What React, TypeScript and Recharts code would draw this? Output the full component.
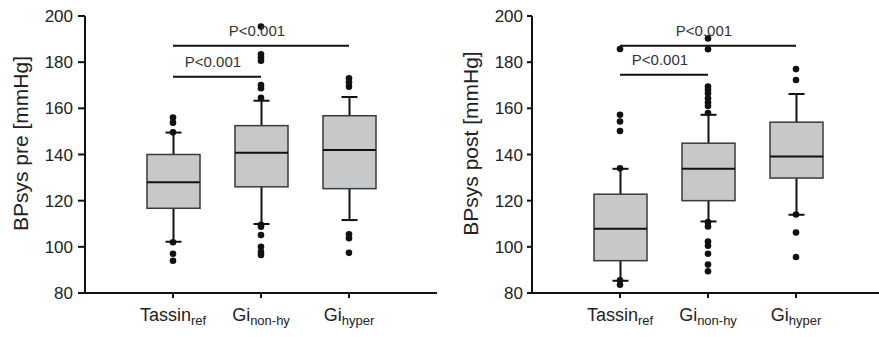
// Box plots of systolic BP before/after, two panels side by side
import { ComposedChart, Bar, Scatter, XAxis, YAxis, ReferenceLine } from 'recharts';

const categories = ['Tassin_ref', 'Gi_non-hy', 'Gi_hyper'];
const catMain = ['Tassin', 'Gi', 'Gi'];
const catSub = ['ref', 'non-hy', 'hyper'];
const yTicks = [80, 100, 120, 140, 160, 180, 200];

// BPsys pre
const preLow = [102.2, 109.9, 111.6];
const preQ1 = [116.7, 126, 125.2];
const preMedian = [128, 140.8, 141.9];
const preQ3 = [140, 152.5, 156.8];
const preHigh = [149.5, 163.3, 164.9];
const preOutTassin = [156, 153.8, 149.6, 102, 97, 94];
const preOutNonHy = [195.4, 183.4, 182, 180.6, 170.1, 168.7, 164.6, 109.5, 108.7, 105.1, 100, 97.9, 96.5];
const preOutHyper = [173, 171.3, 169.4, 105.4, 103.7, 97.4];
const preSigLevels = [173.7, 187.1];

// BPsys post
const postLow = [85.3, 111, 113.9];
const postQ1 = [94, 120, 129.8];
const postMedian = [107.8, 133.8, 139.1];
const postQ3 = [122.8, 144.9, 154];
const postHigh = [133.8, 157.2, 166.2];
const postOutTassin = [185.7, 157.2, 154.3, 150.2, 134, 85.5, 83.6];
const postOutNonHy = [190.3, 185.6, 169.4, 168, 166.5, 164.4, 162.5, 161, 158, 110.7, 108.8, 102.3, 100.5, 97, 92.3, 89.4];
const postOutHyper = [177, 172.3, 114, 106.2, 95.6];
const postSigLevels = [174.5, 187.1];

// which groups each significance bar joins
const sigPairs = [
  ['Tassin_ref', 'Gi_non-hy'],
  ['Tassin_ref', 'Gi_hyper'],
];
const sigLabel = 'P<0.001';

const FONT = 'Arial, "Liberation Sans", Helvetica, sans-serif';
const INK = '#111';

function BoxShape(props: any) {
  const { x, y, width, height, payload } = props;
  const top = Math.min(y, y + height);
  const h = Math.abs(height);
  const unit = h / (payload.high - payload.low);
  const py = (v: number) => top + (payload.high - v) * unit;
  const cx = x + width / 2;
  const cap = 8;
  return (
    <g>
      <line x1={cx} x2={cx} y1={py(payload.high)} y2={py(payload.q3)} stroke={INK} strokeWidth={2} />
      <line x1={cx} x2={cx} y1={py(payload.q1)} y2={py(payload.low)} stroke={INK} strokeWidth={2} />
      <line x1={cx - cap} x2={cx + cap} y1={py(payload.high)} y2={py(payload.high)} stroke={INK} strokeWidth={2} />
      <line x1={cx - cap} x2={cx + cap} y1={py(payload.low)} y2={py(payload.low)} stroke={INK} strokeWidth={2} />
      <rect
        x={x}
        y={py(payload.q3)}
        width={width}
        height={py(payload.q1) - py(payload.q3)}
        fill="#c7c8ca"
        stroke="#3a3a3a"
        strokeWidth={1.5}
      />
      <line x1={x} x2={x + width} y1={py(payload.median)} y2={py(payload.median)} stroke={INK} strokeWidth={2} />
    </g>
  );
}

function CatTick({ x, y, payload }: any) {
  const i = categories.indexOf(payload.value);
  return (
    <text x={x} y={y} dy={21} textAnchor="middle" fill="#222" fontSize={18} fontFamily={FONT}>
      <tspan>{catMain[i]}</tspan>
      <tspan fontSize={13} dy={4}>{catSub[i]}</tspan>
    </text>
  );
}

interface PanelProps {
  width: number;
  yWidth: number;
  rightMargin: number;
  title: string;
  titleX: number;
  tickSize: number;
  tickMargin: number;
  low: number[];
  q1: number[];
  median: number[];
  q3: number[];
  high: number[];
  outliers: number[][];
  sigLevels: number[];
}

function Panel(p: PanelProps) {
  const boxes = categories.map((cat, i) => ({
    cat,
    low: p.low[i],
    q1: p.q1[i],
    median: p.median[i],
    q3: p.q3[i],
    high: p.high[i],
  }));
  const points = categories.flatMap((cat, i) => p.outliers[i].map((v) => ({ cat, v })));
  const axisLine = { stroke: INK, strokeWidth: 2 };

  return (
    <ComposedChart
      width={p.width}
      height={337}
      data={boxes}
      margin={{ top: 16, right: p.rightMargin, bottom: 0, left: 0 }}
    >
      <XAxis
        dataKey="cat"
        type="category"
        allowDuplicatedCategory={false}
        padding={{ left: 44, right: 44 }}
        height={44}
        axisLine={axisLine}
        tickLine={{ stroke: INK, strokeWidth: 2 }}
        tickSize={5}
        tick={<CatTick />}
        interval={0}
      />
      <XAxis
        xAxisId="top"
        orientation="top"
        dataKey="cat"
        allowDuplicatedCategory={false}
        height={0}
        tick={false}
        tickLine={false}
        axisLine={axisLine}
      />
      <YAxis
        type="number"
        domain={[80, 200]}
        ticks={yTicks}
        width={p.yWidth}
        axisLine={axisLine}
        tickLine={{ stroke: INK, strokeWidth: 2 }}
        tickSize={p.tickSize}
        tickMargin={p.tickMargin}
        tick={{ fontSize: 17, fill: '#222', fontFamily: FONT }}
        label={{
          value: p.title,
          content: (lp: any) => {
            const vb = lp.viewBox || { y: 16, height: 277 };
            const cy = vb.y + vb.height / 2 - 11;
            return (
              <text
                transform={`translate(${p.titleX}, ${cy}) rotate(-90)`}
                textAnchor="middle"
                fontSize={21}
                fill="#222"
                fontFamily={FONT}
              >
                {p.title}
              </text>
            );
          },
        }}
      />
      <YAxis
        yAxisId="frame"
        orientation="right"
        domain={[80, 200]}
        width={0}
        tick={false}
        tickLine={false}
        axisLine={axisLine}
      />
      <Bar
        dataKey={(d: any) => [d.low, d.high]}
        barSize={53}
        shape={<BoxShape />}
        isAnimationActive={false}
      />
      <Scatter
        data={points}
        dataKey="v"
        isAnimationActive={false}
        shape={(sp: any) => <circle cx={sp.cx} cy={sp.cy} r={3.3} fill={INK} />}
      />
      {sigPairs.map((pair, i) => (
        <ReferenceLine
          key={i}
          segment={[
            { x: pair[0], y: p.sigLevels[i] },
            { x: pair[1], y: p.sigLevels[i] },
          ]}
          stroke={INK}
          strokeWidth={2}
          ifOverflow="visible"
          label={{
            value: sigLabel,
            position: 'top',
            offset: 10,
            dx: -4,
            fontSize: 15,
            fill: '#333',
            fontFamily: FONT,
          }}
        />
      ))}
    </ComposedChart>
  );
}

export default function App() {
  return (
    <div
      style={{
        position: 'absolute',
        left: 0,
        top: 0,
        width: 879,
        height: 337,
        overflow: 'hidden',
        background: '#fff',
        fontFamily: FONT,
      }}
    >
      <div style={{ position: 'absolute', left: 0, top: 0 }}>
        <Panel
          width={440}
          yWidth={85}
          rightMargin={3}
          title="BPsys pre [mmHg]"
          titleX={28}
          tickSize={7}
          tickMargin={5}
          low={preLow}
          q1={preQ1}
          median={preMedian}
          q3={preQ3}
          high={preHigh}
          outliers={[preOutTassin, preOutNonHy, preOutHyper]}
          sigLevels={preSigLevels}
        />
      </div>
      <div style={{ position: 'absolute', left: 440, top: 0 }}>
        <Panel
          width={444}
          yWidth={92}
          rightMargin={0}
          title="BPsys post [mmHg]"
          titleX={38}
          tickSize={5}
          tickMargin={4}
          low={postLow}
          q1={postQ1}
          median={postMedian}
          q3={postQ3}
          high={postHigh}
          outliers={[postOutTassin, postOutNonHy, postOutHyper]}
          sigLevels={postSigLevels}
        />
      </div>
    </div>
  );
}
